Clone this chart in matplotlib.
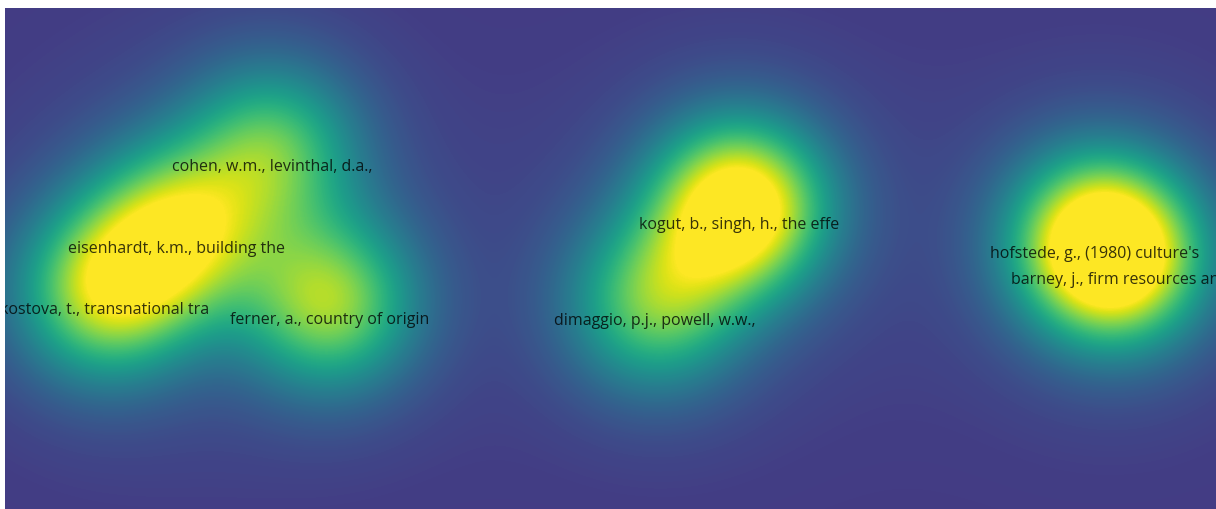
#Density view of the most cited references

from matplotlib import pyplot as plt
from matplotlib.colors import ListedColormap
import numpy as np

# Items: label, position on the map (pixels) and weight

labels = ['cohen, w.m., levinthal, d.a.,',
          'eisenhardt, k.m., building the',
          'kostova, t., transnational tra',
          'ferner, a., country of origin',
          'kogut, b., singh, h., the effe',
          'dimaggio, p.j., powell, w.w.,',
          "hofstede, g., (1980) culture's",
          'barney, j., firm resources and']
item_x = [272, 176, 105, 330, 739, 655, 1095, 1120]
item_y = [151, 233, 294, 304, 209, 305, 238, 264]
weight = [0.60, 0.77, 0.77, 0.74, 1.12, 0.64, 0.74, 0.74]

# Gaussian kernel density on a pixel grid, with a faint wide halo

sigma = 60.0
halo = 125.0
xs = np.arange(5, 1216) + 0.5
ys = np.arange(9, 510) + 0.5
X, Y = np.meshgrid(xs, ys)
dens = np.zeros_like(X)
for x0, y0, w in zip(item_x, item_y, weight):
    r2 = (X - x0)**2 + (Y - y0)**2
    dens += w * (np.exp(-r2 / (2 * sigma**2)) + 0.06 * np.exp(-r2 / (2 * halo**2)))
dens = np.clip(dens, 0, 1)

cmap = ListedColormap(plt.get_cmap('viridis')(np.linspace(0.17, 1.0, 256)))

# Plot the map

fig = plt.figure(figsize=(12.16, 5.10), dpi=100)
ax = fig.add_axes([5/1216, 0, 1211/1216, 501/510])
ax.imshow(dens, cmap=cmap, vmin=0, vmax=1, extent=(5, 1216, 510, 9),
          interpolation='bilinear', aspect='auto')
ax.set_xlim(5, 1216)
ax.set_ylim(510, 9)
ax.axis('off')

for lab, x0, y0 in zip(labels, item_x, item_y):
    ax.text(x0, y0 + 16, lab, ha='center', va='center', fontsize=11.5,
            family='Open Sans', color='black', alpha=0.78, clip_on=True)

fig.savefig('out.png', dpi=100, facecolor='white')
